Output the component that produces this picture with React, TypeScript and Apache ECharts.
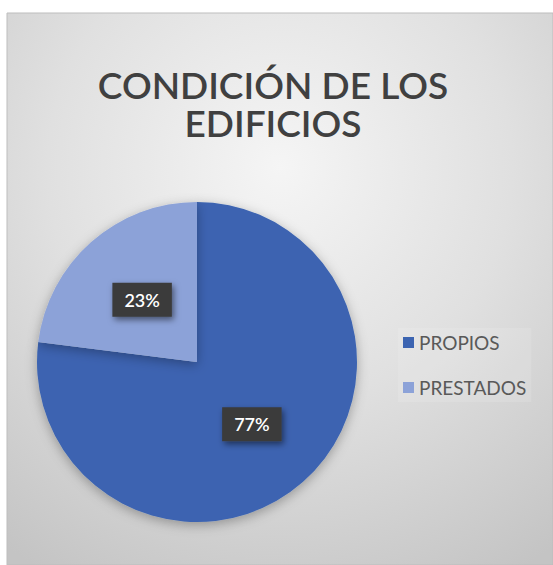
import React, { useEffect, useRef } from "react";
import * as echarts from "echarts";

const titleText = "CONDICIÓN DE LOS\nEDIFICIOS";
const categories = ["PROPIOS", "PRESTADOS"];
const values = [77, 23];
const colors = ["#3C64B1", "#8CA2D8"];

export default function App() {
  const ref = useRef<HTMLDivElement>(null);
  useEffect(() => {
    if (!ref.current) return;
    const chart = echarts.init(ref.current, null, { renderer: "svg" });
    chart.setOption({
      animation: false,
      backgroundColor: "#ffffff",
      graphic: [
        {
          type: "rect",
          z: -10,
          shape: { x: 7, y: 13, width: 546, height: 552 },
          style: {
            fill: new echarts.graphic.RadialGradient(0.5, 0.28, 0.85, [
              { offset: 0, color: "#f5f5f5" },
              { offset: 0.5, color: "#e0e0e0" },
              { offset: 1, color: "#c4c4c4" },
            ]),
            stroke: "#bdbdbd",
            lineWidth: 1,
          },
        },
      ],
      title: {
        text: titleText,
        left: 268,
        top: 60,
        textAlign: "center",
        textStyle: {
          fontFamily: "Lato",
          fontWeight: 600,
          fontSize: 37,
          lineHeight: 38,
          color: "#404040",
        },
      },
      legend: {
        orient: "vertical",
        left: 398,
        top: 328,
        icon: "rect",
        itemWidth: 11,
        itemHeight: 11,
        itemGap: 26,
        data: categories,
        backgroundColor: "rgba(255,255,255,0.12)",
        textStyle: { fontFamily: "Lato", fontSize: 19, color: "#595959" },
      },
      series: [
        {
          type: "pie",
          center: [197, 362],
          radius: 160,
          startAngle: 90,
          clockwise: true,
          data: categories.map((c, i) => ({
            name: c,
            value: values[i],
            itemStyle: { color: colors[i] },
          })),
          itemStyle: {
            shadowBlur: 12,
            shadowColor: "rgba(0,0,0,0.3)",
            shadowOffsetY: 3,
          },
          label: {
            position: "inside",
            formatter: "{d}%",
            color: "#ffffff",
            fontFamily: "Lato",
            fontWeight: 600,
            fontSize: 18,
            backgroundColor: "#3a3a3a",
            padding: [8, 12],
            shadowBlur: 6,
            shadowColor: "rgba(0,0,0,0.5)",
            shadowOffsetX: 2,
            shadowOffsetY: 3,
          },
          labelLine: { show: false },
        },
      ],
    });
    return () => chart.dispose();
  }, []);
  return (
    <div
      ref={ref}
      style={{ position: "absolute", left: 0, top: 0, width: 553, height: 565 }}
    />
  );
}
